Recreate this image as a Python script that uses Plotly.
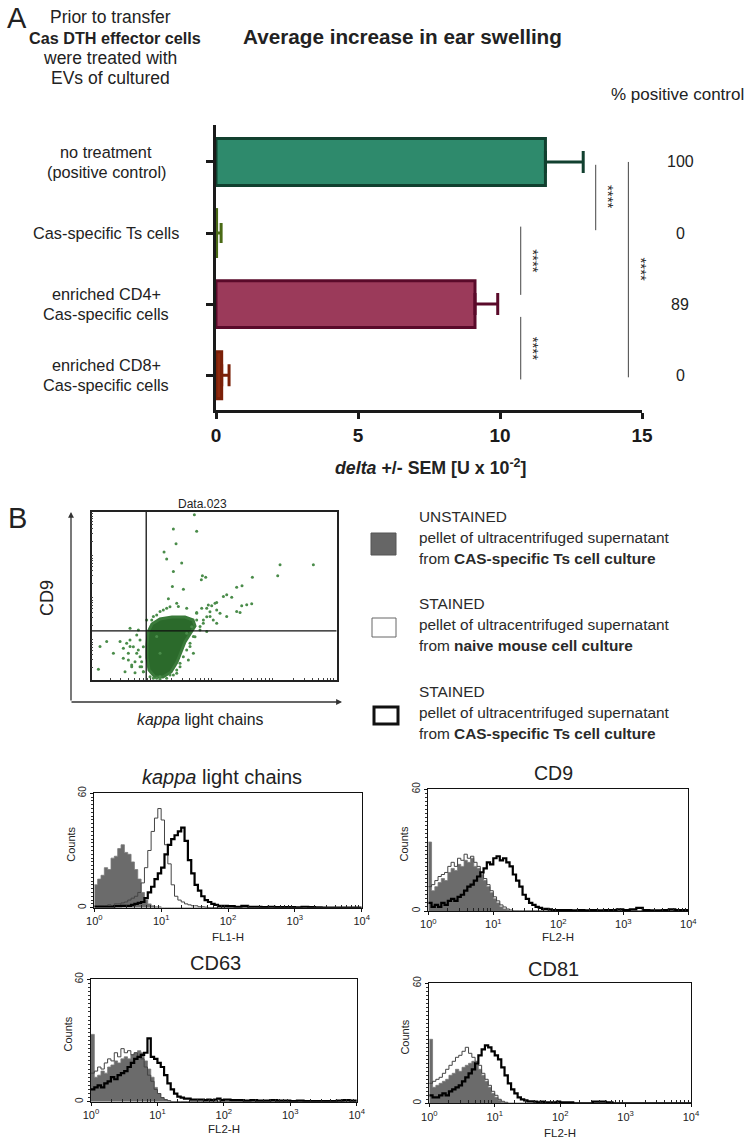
import math
import plotly.graph_objects as go

W, H = 749, 1145
FONT = "Liberation Sans, Arial, sans-serif"
TXT = "#222222"

# ---------------- Panel A data ----------------
CATEGORIES = [["no treatment", "(positive control)"], ["Cas-specific Ts cells"],
              ["enriched CD4+", "Cas-specific cells"], ["enriched CD8+", "Cas-specific cells"]]
MEAN_SWELLING = [11.6, 0.02, 9.12, 0.2]
SEM_SWELLING = [1.33, 0.16, 0.8, 0.26]
PCT_POSITIVE = ["100", "0", "89", "0"]
X_TICKS = [0, 5, 10, 15]
BAR_FILL = ["#2e8a6c", "#56761e", "#9b3a5a", "#8e2a0e"]
BAR_EDGE = ["#11402f", "#4a6a16", "#5a0a2a", "#7a2008"]

# significance comparisons (x position in delta units, from/to category index)
SIG_X = [13.37, 14.52, 10.73, 10.73]
SIG_FROM = [0.04, 0.0, 0.91, 2.18]
SIG_TO = [0.96, 3.03, 1.87, 3.06]
SIG_LABEL = ["****", "****", "****", "****"]

# ---------------- Panel B scatter (log decades) ----------------
SCATTER_KAPPA = [1.676, 1.333, 1.714, 1.377, 1.181, 1.224, 1.469, 1.333, 1.807, 1.861, 1.790, 2.623,
                 3.075, 3.619, 3.037, 2.454, 2.367, 1.317, 1.497, 1.252, 2.449, 2.531, 2.612, 2.367,
                 2.422, 2.204, 2.150, 2.286, 2.041, 1.959, 1.878, 2.095, 2.204, 1.932, 2.041, 1.823,
                 1.769, 1.878, 1.660, 1.660, 1.605, 1.578, 1.442, 1.388, 1.279, 1.116, 1.061, 0.952,
                 0.844, 0.789, 0.707, 0.653, 0.599, 0.816, 0.735, 0.626, 0.517, 0.463, 0.245, 0.136,
                 0.109, 0.354, 0.762, 0.626, 0.898, 1.007, 1.116, 1.224, 1.415, 1.551, 1.714, 1.061,
                 1.116,
                 0.571, 0.625, 0.680, 0.735, 0.761, 0.789, 0.707, 0.653, 0.816, 0.843, 0.789, 0.843,
                 0.598, 0.516, 0.544,
                 1.714, 1.796, 1.878, 1.931, 1.822, 1.985, 1.768, 1.687, 1.605, 1.551, 1.496, 1.442,
                 1.388, 1.333, 1.224, 1.115, 1.006, 1.633, 1.551, 1.714, 1.904, 2.013, 2.041,
                 1.169, 1.278, 1.388, 1.061, 0.980]
SCATTER_CD9 = [3.936, 3.594, 3.539, 3.245, 3.046, 2.879, 2.783, 2.584, 2.481, 2.449, 2.386, 2.449,
               2.744, 2.744, 2.481, 2.243, 2.211, 2.227, 2.163, 1.932, 1.765, 1.789, 1.813, 1.630,
               1.606, 2.028, 1.988, 1.972, 1.845, 1.765, 1.710, 1.590, 1.511, 1.511, 1.352, 1.431,
               1.272, 1.153, 1.034, 0.636, 0.795, 0.477, 0.318, 0.159, 0.119, 0.080, 0.040, 0.080,
               0.199, 0.318, 0.175, 0.358, 0.477, 0.437, 0.636, 0.795, 0.755, 0.915, 0.915, 0.795,
               0.254, 0.636, 1.193, 1.233, 1.431, 1.511, 1.630, 1.710, 1.749, 1.710, 1.606, 1.034,
               0.636,
               0.873, 0.952, 0.794, 1.071, 0.714, 0.556, 0.437, 0.317, 0.317, 0.198, 0.952, 0.794,
               0.635, 0.516, 0.198,
               1.587, 1.706, 1.508, 1.627, 1.349, 1.429, 1.190, 1.032, 0.873, 0.714, 0.556, 0.397,
               0.238, 0.119, 0.040, 0.016, 0.040, 1.270, 1.111, 1.429, 1.786, 1.825, 1.667,
               1.667, 1.746, 1.825, 1.548, 1.429]
CORE_KAPPA = [0.920, 0.984, 1.115, 1.311, 1.523, 1.654, 1.687, 1.605, 1.523, 1.458, 1.393, 1.295,
              1.164, 1.033, 0.936, 0.903, 0.903, 0.920]
CORE_CD9 = [1.143, 1.333, 1.452, 1.500, 1.500, 1.429, 1.286, 1.095, 0.905, 0.667, 0.429, 0.190,
            0.071, 0.071, 0.238, 0.524, 0.833, 1.143]
GATE_KAPPA = 0.89
GATE_CD9 = 1.17

# ---------------- Histograms (log10 fluorescence, counts) ----------------
HIST_LOGX = [0.0, 0.05, 0.1, 0.15, 0.2, 0.25, 0.3, 0.35, 0.4, 0.45,
             0.5, 0.55, 0.6, 0.65, 0.7, 0.75, 0.8, 0.85, 0.9, 0.95,
             1.0, 1.05, 1.1, 1.15, 1.2, 1.25, 1.3, 1.35, 1.4, 1.45,
             1.5, 1.55, 1.6, 1.65, 1.7, 1.75, 1.8, 1.85, 1.9, 1.95,
             2.0,
             2.1, 2.2, 2.3, 2.4, 2.5, 2.6, 2.7, 2.8, 2.9, 3.0,
             3.1, 3.2, 3.3, 3.4, 3.5, 3.6, 3.7, 3.8, 3.9, 4.0]
Z10 = [0] * 10

KAPPA_UNSTAINED = [12, 15, 17, 21, 20, 26, 27, 31, 33, 29,
                   28, 24, 20, 15, 8, 4, 2, 1, 0.5, 0.5,
                   0, 0, 0, 0, 0, 0, 0, 0, 0, 0] + Z10 + [0] + Z10 + Z10
KAPPA_NAIVE = [1, 1, 1, 1, 1.5, 1, 2, 2, 2.5, 3,
               4, 5, 6, 8, 13, 21, 30, 40, 47, 52,
               46, 33, 23, 12, 6, 4, 3, 2, 1.5, 1,
               1, 0.5, 0.5, 0.3, 0, 0, 0, 0, 0, 0] + [0] + Z10 + Z10
KAPPA_CAS = [0.5, 0.5, 0.5, 0.5, 0.5, 0.5, 0.8, 0.8, 1, 1,
             1, 1.5, 2, 2.5, 3, 5, 8, 11, 15, 18,
             21, 28, 33, 36, 38, 40, 42, 35, 25, 18,
             12, 9, 6, 4, 3, 2, 1.5, 1, 1, 1,
             0.8,
             0.5, 1, 0.5, 0.5, 0.3, 0.5, 0.3, 0.3, 0.3, 0.2,
             0.5, 0.3, 0.2, 0, 0, 0, 0, 0, 0, 0]

CD9_UNSTAINED = [34, 10, 12, 14, 16, 15, 19, 21, 20, 23,
                 22, 25, 24, 26, 22, 21, 18, 15, 12, 9,
                 6, 4, 2, 1, 0.5, 0, 0, 0, 0, 0] + Z10 + [0] + Z10 + Z10
CD9_NAIVE = [12, 13, 15, 17, 18, 19, 22, 24, 22, 26,
             25, 28, 26, 27, 24, 22, 19, 16, 13, 10,
             7, 5, 3, 2, 1, 0.5, 0, 0, 0, 0] + Z10 + [0] + Z10 + Z10
CD9_CAS = [4, 2, 3, 2, 4, 3, 5, 6, 5, 7,
           8, 10, 12, 13, 15, 17, 19, 21, 24, 23,
           26, 27, 25, 26, 24, 22, 18, 15, 12, 8,
           6, 4, 3, 2, 1.5, 1, 1, 0.8, 0.5, 0.5,
           0.5,
           0.5, 0.3, 0.5, 0.3, 0.5, 0.3, 0.5, 0.5, 0.8, 0.5,
           0.8, 1.5, 0.5, 0.3, 0.3, 0.5, 0.8, 0.5, 0.5, 0]

CD63_UNSTAINED = [33, 12, 13, 15, 14, 17, 18, 20, 19, 21,
                  22, 21, 23, 24, 25, 24, 20, 16, 12, 7,
                  4, 2, 1, 0.5, 0, 0, 0, 0, 0, 0] + Z10 + [0] + Z10 + Z10
CD63_NAIVE = [14, 15, 17, 16, 19, 21, 20, 24, 22, 26,
              24, 25, 23, 24, 22, 21, 17, 13, 10, 6,
              4, 2, 1, 0.5, 0, 0, 0, 0, 0, 0] + Z10 + [0] + Z10 + Z10
CD63_CAS = [6, 7, 8, 7, 9, 10, 12, 11, 13, 14,
            15, 17, 19, 21, 22, 23, 24, 31, 22, 21,
            19, 17, 13, 9, 6, 4, 2.5, 2, 1.5, 1.5,
            1, 1, 1, 1, 0.8, 1, 0.8, 1, 1.5, 0.8,
            1,
            0.8, 0.8, 0.5, 0.8, 0.5, 0.5, 0.8, 0.5, 0.5, 0.3,
            0.5, 0.3, 0.3, 0.3, 0.3, 0.3, 0.5, 0.8, 0.5, 0]

CD81_UNSTAINED = [32, 8, 9, 10, 11, 12, 14, 15, 17, 16,
                  18, 19, 20, 21, 20, 17, 14, 11, 8, 5,
                  3, 1.5, 0.5, 0, 0, 0, 0, 0, 0, 0] + Z10 + [0] + Z10 + Z10
CD81_NAIVE = [10, 11, 12, 13, 15, 17, 19, 21, 23, 24,
              26, 28, 25, 23, 21, 19, 15, 12, 9, 6,
              4, 2, 1, 0.5, 0, 0, 0, 0, 0, 0] + Z10 + [0] + Z10 + Z10
CD81_CAS = [4, 3, 3, 4, 5, 4, 6, 7, 8, 9,
            11, 13, 15, 17, 20, 24, 27, 29, 28, 26,
            24, 22, 18, 14, 10, 7, 5, 3, 2, 1.5,
            1, 1, 0.8, 0.5, 0.8, 0.5, 0.5, 0.5, 0.5, 0.8,
            0.5,
            0.5, 0, 0, 0, 0.8, 0.8, 0.5, 0, 0, 0] + Z10

HIST_TITLES = ["<i>kappa</i> light chains", "CD9", "CD63", "CD81"]
HIST_XLABELS = ["FL1-H", "FL2-H", "FL2-H", "FL2-H"]
HIST_DATA = [(KAPPA_UNSTAINED, KAPPA_NAIVE, KAPPA_CAS),
             (CD9_UNSTAINED, CD9_NAIVE, CD9_CAS),
             (CD63_UNSTAINED, CD63_NAIVE, CD63_CAS),
             (CD81_UNSTAINED, CD81_NAIVE, CD81_CAS)]
DECADE_TICKS = [0, 1, 2, 3, 4]
DECADE_LABELS = ["10<sup>0</sup>", "10<sup>1</sup>", "10<sup>2</sup>", "10<sup>3</sup>", "10<sup>4</sup>"]
COUNT_TICKS = [0, 60]


# ---------------- layout geometry (pixels) ----------------
def PX(x):
    return x / W


def PY(y):
    return 1 - y / H


fig = go.Figure()
annotations = []
shapes = []


def text(x, y, s, size=14, color=TXT, xanchor="center", yanchor="middle", angle=0, align="center"):
    annotations.append(dict(x=PX(x), y=PY(y), xref="paper", yref="paper", text=s, showarrow=False,
                            font=dict(family=FONT, size=size, color=color), xanchor=xanchor,
                            yanchor=yanchor, textangle=angle, align=align))


# ======== Panel A ========
CAP_W = [11, 10, 11, 11]
for i in range(len(MEAN_SWELLING)):
    fig.add_trace(go.Bar(
        x=[MEAN_SWELLING[i]], y=[i], orientation="h", width=0.66,
        marker=dict(color=BAR_FILL[i], line=dict(color=BAR_EDGE[i], width=3)),
        error_x=dict(type="data", array=[SEM_SWELLING[i]], arrayminus=[0], symmetric=False,
                     color=BAR_EDGE[i], thickness=3, width=CAP_W[i]),
        xaxis="x", yaxis="y", showlegend=False, hoverinfo="skip"))

for i in range(len(SIG_X)):
    shapes.append(dict(type="line", xref="x", yref="y", x0=SIG_X[i], x1=SIG_X[i],
                       y0=SIG_FROM[i], y1=SIG_TO[i], line=dict(color="#444444", width=1)))
    annotations.append(dict(x=SIG_X[i] + 0.45, y=(SIG_FROM[i] + SIG_TO[i]) / 2, xref="x", yref="y",
                            text=SIG_LABEL[i], showarrow=False, textangle=90, xanchor="center",
                            yanchor="middle", font=dict(family=FONT, size=15, color="#2a2a2a")))

for i, lines in enumerate(CATEGORIES):
    n = len(lines)
    for j, s in enumerate(lines):
        shift = (n - 1) * 10 - j * 20
        annotations.append(dict(x=PX(106), y=i, xref="paper", yref="y", text=s, showarrow=False,
                                xanchor="center", yanchor="middle", yshift=shift,
                                font=dict(family=FONT, size=16.3, color=TXT)))
    annotations.append(dict(x=PX(680), y=i, xref="paper", yref="y", text=PCT_POSITIVE[i],
                            showarrow=False, xanchor="center", yanchor="middle",
                            font=dict(family=FONT, size=16, color=TXT)))

text(17, 18, "A", size=29)
text(110, 17, "Prior to transfer", size=17.5)
text(115, 38, "<b>Cas DTH effector cells</b>", size=16.2)
text(110, 58, "were treated with", size=17.5)
text(110, 78, "EVs of cultured", size=17.5)
text(402, 37, "<b>Average increase in ear swelling</b>", size=20.7)
text(677, 94, "% positive control", size=17)
text(430, 467, "<b><i>delta</i> +/- SEM [U x 10<sup>-2</sup>]</b>", size=17.8)

# ======== Panel B scatter ========
text(17, 518, "B", size=29)
fig.add_trace(go.Scatter(x=CORE_KAPPA, y=CORE_CD9, mode="lines", fill="toself", xaxis="x2", yaxis="y2",
                         fillcolor="#2b6a2b", line=dict(color="#3a7a3a", width=3),
                         showlegend=False, hoverinfo="skip"))
fig.add_trace(go.Scatter(x=SCATTER_KAPPA, y=SCATTER_CD9, mode="markers", xaxis="x2", yaxis="y2",
                         marker=dict(size=3, color="#4a8c4a"), showlegend=False, hoverinfo="skip"))
shapes.append(dict(type="line", xref="x2", yref="y2", x0=GATE_KAPPA, x1=GATE_KAPPA, y0=0, y1=4,
                   line=dict(color="#111111", width=1.3)))
shapes.append(dict(type="line", xref="x2", yref="y2", x0=0, x1=4, y0=GATE_CD9, y1=GATE_CD9,
                   line=dict(color="#111111", width=1.3)))
text(203, 504, "Data.023", size=12)
text(47, 598, "CD9", size=18, angle=-90)
text(200, 719, "<i>kappa</i> light chains", size=15.8)
annotations.append(dict(x=PX(71), y=PY(512), xref="paper", yref="paper", ax=0, ay=190, showarrow=True,
                        arrowhead=2, arrowsize=0.9, arrowwidth=1.3, arrowcolor="#333333", text=""))
annotations.append(dict(x=PX(342), y=PY(702), xref="paper", yref="paper", ax=-272, ay=0, showarrow=True,
                        arrowhead=2, arrowsize=0.9, arrowwidth=1.3, arrowcolor="#333333", text=""))

# legend
shapes.append(dict(type="rect", xref="paper", yref="paper", x0=PX(371), x1=PX(396), y0=PY(555), y1=PY(533),
                   fillcolor="#666666", line=dict(color="#555555", width=1)))
shapes.append(dict(type="rect", xref="paper", yref="paper", x0=PX(372), x1=PX(396), y0=PY(637), y1=PY(618),
                   fillcolor="white", line=dict(color="#666666", width=1)))
shapes.append(dict(type="rect", xref="paper", yref="paper", x0=PX(374), x1=PX(398), y0=PY(724), y1=PY(707),
                   fillcolor="white", line=dict(color="#111111", width=3)))
LEG_LINES = [(516, "UNSTAINED"), (537, "pellet of ultracentrifuged supernatant"),
             (558, "from <b>CAS-specific Ts cell culture</b>"),
             (603, "STAINED"), (624, "pellet of ultracentrifuged supernatant"),
             (645, "from <b>naive mouse cell culture</b>"),
             (691, "STAINED"), (712, "pellet of ultracentrifuged supernatant"),
             (733, "from <b>CAS-specific Ts cell culture</b>")]
for yy, s in LEG_LINES:
    text(417, yy, s, size=15.4, color="#2a2a2a", xanchor="left")

# ======== Histograms ========
HIST_BOX = [(94.3, 361.7, 793.3, 907.7), (428.3, 688.3, 789.3, 911.0),
            (91.0, 356.7, 979.3, 1101.7), (429.3, 691.0, 983.3, 1103.3)]
TITLE_POS = [(222, 777, 20), (553, 773, 19.5), (215, 963, 20), (553, 969, 20)]
XLAB_Y = [937, 937, 1129, 1133]
MINOR_X = [d + math.log10(k) for d in range(4) for k in range(2, 10)]

layout_axes = {}
layout_axes["xaxis"] = dict(domain=[PX(216), PX(642)], range=[0, 15], anchor="y", showline=True,
                            linewidth=3, linecolor="#1a1a1a", ticks="outside", ticklen=6, tickwidth=3,
                            tickcolor="#1a1a1a", tickvals=X_TICKS,
                            ticktext=["<b>%d</b>" % v for v in X_TICKS],
                            tickfont=dict(family=FONT, size=19, color="#1a1a1a"),
                            showgrid=False, zeroline=False, automargin=False)
layout_axes["yaxis"] = dict(domain=[PY(410), PY(125)], range=[3.49, -0.52], anchor="x", showline=True,
                            linewidth=3, linecolor="#1a1a1a", ticks="outside", ticklen=7, tickwidth=3,
                            tickcolor="#1a1a1a", tickvals=[0, 1, 2, 3], showticklabels=False,
                            showgrid=False, zeroline=False, automargin=False)
layout_axes["xaxis2"] = dict(domain=[PX(91.7), PX(336.7)], range=[0, 4], anchor="y2", showline=True,
                             mirror=True, linewidth=1.5, linecolor="#222222", ticks="", showticklabels=False,
                             minor=dict(tickvals=MINOR_X, ticks="inside", ticklen=2, tickcolor="#444444"),
                             showgrid=False, zeroline=False, automargin=False)
layout_axes["yaxis2"] = dict(domain=[PY(680), PY(512)], range=[0, 4], anchor="x2", showline=True,
                             mirror=True, linewidth=1.5, linecolor="#222222", ticks="", showticklabels=False,
                             minor=dict(tickvals=MINOR_X, ticks="inside", ticklen=2, tickcolor="#444444"),
                             showgrid=False, zeroline=False, automargin=False)

for k in range(4):
    n = k + 3
    x0, x1, y0, y1 = HIST_BOX[k]
    xa, ya = "x%d" % n, "y%d" % n
    layout_axes["xaxis%d" % n] = dict(domain=[PX(x0), PX(x1)], range=[0, 4], anchor=ya, showline=True,
                                      mirror=True, linewidth=1.3, linecolor="#111111", ticks="outside",
                                      ticklen=3, tickcolor="#111111", tickvals=DECADE_TICKS,
                                      ticktext=DECADE_LABELS,
                                      tickfont=dict(family=FONT, size=11, color="#222222"),
                                      minor=dict(tickvals=MINOR_X, ticks="inside", ticklen=3,
                                                 tickcolor="#222222"),
                                      showgrid=False, zeroline=False, automargin=False)
    layout_axes["yaxis%d" % n] = dict(domain=[PY(y1), PY(y0)], range=[0, 60], anchor=xa, showline=True,
                                      mirror=True, linewidth=1.3, linecolor="#111111", ticks="outside",
                                      ticklen=3, tickcolor="#111111", tickvals=COUNT_TICKS, tickangle=-90,
                                      tickfont=dict(family=FONT, size=10, color="#222222"),
                                      minor=dict(dtick=2, ticks="outside", ticklen=2, tickcolor="#333333"),
                                      showgrid=False, zeroline=False, automargin=False)
    unst, naive, cas = HIST_DATA[k]
    fig.add_trace(go.Scatter(x=HIST_LOGX, y=unst, mode="lines", line_shape="hv", fill="tozeroy",
                             fillcolor="#6b6b6b", line=dict(color="#7a7a7a", width=0.8),
                             xaxis=xa, yaxis=ya, showlegend=False, hoverinfo="skip"))
    fig.add_trace(go.Scatter(x=HIST_LOGX, y=naive, mode="lines", line_shape="hv",
                             line=dict(color="#444444", width=1),
                             xaxis=xa, yaxis=ya, showlegend=False, hoverinfo="skip"))
    fig.add_trace(go.Scatter(x=HIST_LOGX, y=cas, mode="lines", line_shape="hv",
                             line=dict(color="#000000", width=2.2),
                             xaxis=xa, yaxis=ya, showlegend=False, hoverinfo="skip"))
    tx, ty, ts = TITLE_POS[k]
    text(tx, ty, HIST_TITLES[k], size=ts)
    text(x0 - 24, (y0 + y1) / 2 - 6, "Counts", size=11, angle=-90)
    text((x0 + x1) / 2, XLAB_Y[k], HIST_XLABELS[k], size=11.5)

fig.update_layout(template="none", width=W, height=H, autosize=False,
                  margin=dict(l=0, r=0, t=0, b=0, pad=0, autoexpand=False),
                  font=dict(family=FONT, color=TXT),
                  paper_bgcolor="white", plot_bgcolor="white", barmode="overlay",
                  annotations=annotations, shapes=shapes, **layout_axes)

fig.write_html("out.html", config={"displayModeBar": False},
               post_script="document.body.style.margin='0px';document.body.style.padding='0px';"
                           "document.documentElement.style.overflow='hidden';")
